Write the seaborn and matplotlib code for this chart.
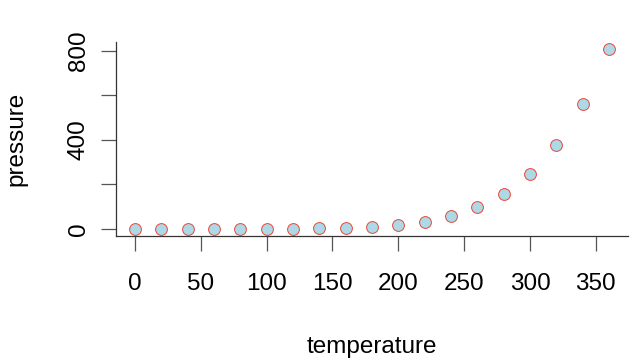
import numpy as np
import pandas as pd
import matplotlib
matplotlib.use("Agg")
import matplotlib.pyplot as plt
import seaborn as sns

# R "pressure" dataset
temperature = [0, 20, 40, 60, 80, 100, 120, 140, 160, 180, 200, 220, 240, 260, 280, 300, 320, 340, 360]
pressure = [0.0002, 0.0012, 0.0060, 0.0300, 0.0900, 0.2700, 0.7500, 1.8500, 4.2000, 8.8000,
            17.3000, 32.1000, 57.0000, 96.0000, 157.0000, 247.0000, 376.0000, 558.0000, 806.0000]
x_ticks = [0, 50, 100, 150, 200, 250, 300, 350]
y_ticks = [0, 200, 400, 600, 800]
y_labels = ["0", "", "400", "", "800"]

df = pd.DataFrame({"temperature": temperature, "pressure": pressure})

sns.set_style("white")
plt.rcParams["font.family"] = ["Liberation Sans", "DejaVu Sans"]
plt.rcParams["text.color"] = "black"
plt.rcParams["xtick.labelcolor"] = "black"
plt.rcParams["ytick.labelcolor"] = "black"
plt.rcParams["axes.labelcolor"] = "black"

fig = plt.figure(figsize=(6.4, 3.61), dpi=100)
ax = fig.add_axes([116 / 640, 125 / 361, (628 - 116) / 640, (319 - 125) / 361])

sns.scatterplot(data=df, x="temperature", y="pressure", ax=ax,
                s=72, color="lightblue", edgecolor="#e8473a", linewidth=0.7, zorder=3)

ax.set_xlim(-14.4, 374.4)
ax.set_ylim(-32.2, 838.2)
ax.set_xticks(x_ticks)
ax.set_yticks(y_ticks)
ax.set_yticklabels(y_labels, rotation=90, va="center")

for s in ["top", "right"]:
    ax.spines[s].set_visible(False)
for s in ["left", "bottom"]:
    ax.spines[s].set_color("#333333")
    ax.spines[s].set_linewidth(0.9)

ax.tick_params(axis="x", direction="out", length=11, width=0.9, color="#555555",
               labelsize=17.5, pad=15.5, bottom=True)
ax.tick_params(axis="y", direction="out", length=11, width=0.9, color="#555555",
               labelsize=17.5, pad=8, left=True)

ax.set_xlabel("temperature", fontsize=17.5, labelpad=30)
ax.set_ylabel("pressure", fontsize=17.5, labelpad=29)

fig.savefig("out.png", dpi=100)
